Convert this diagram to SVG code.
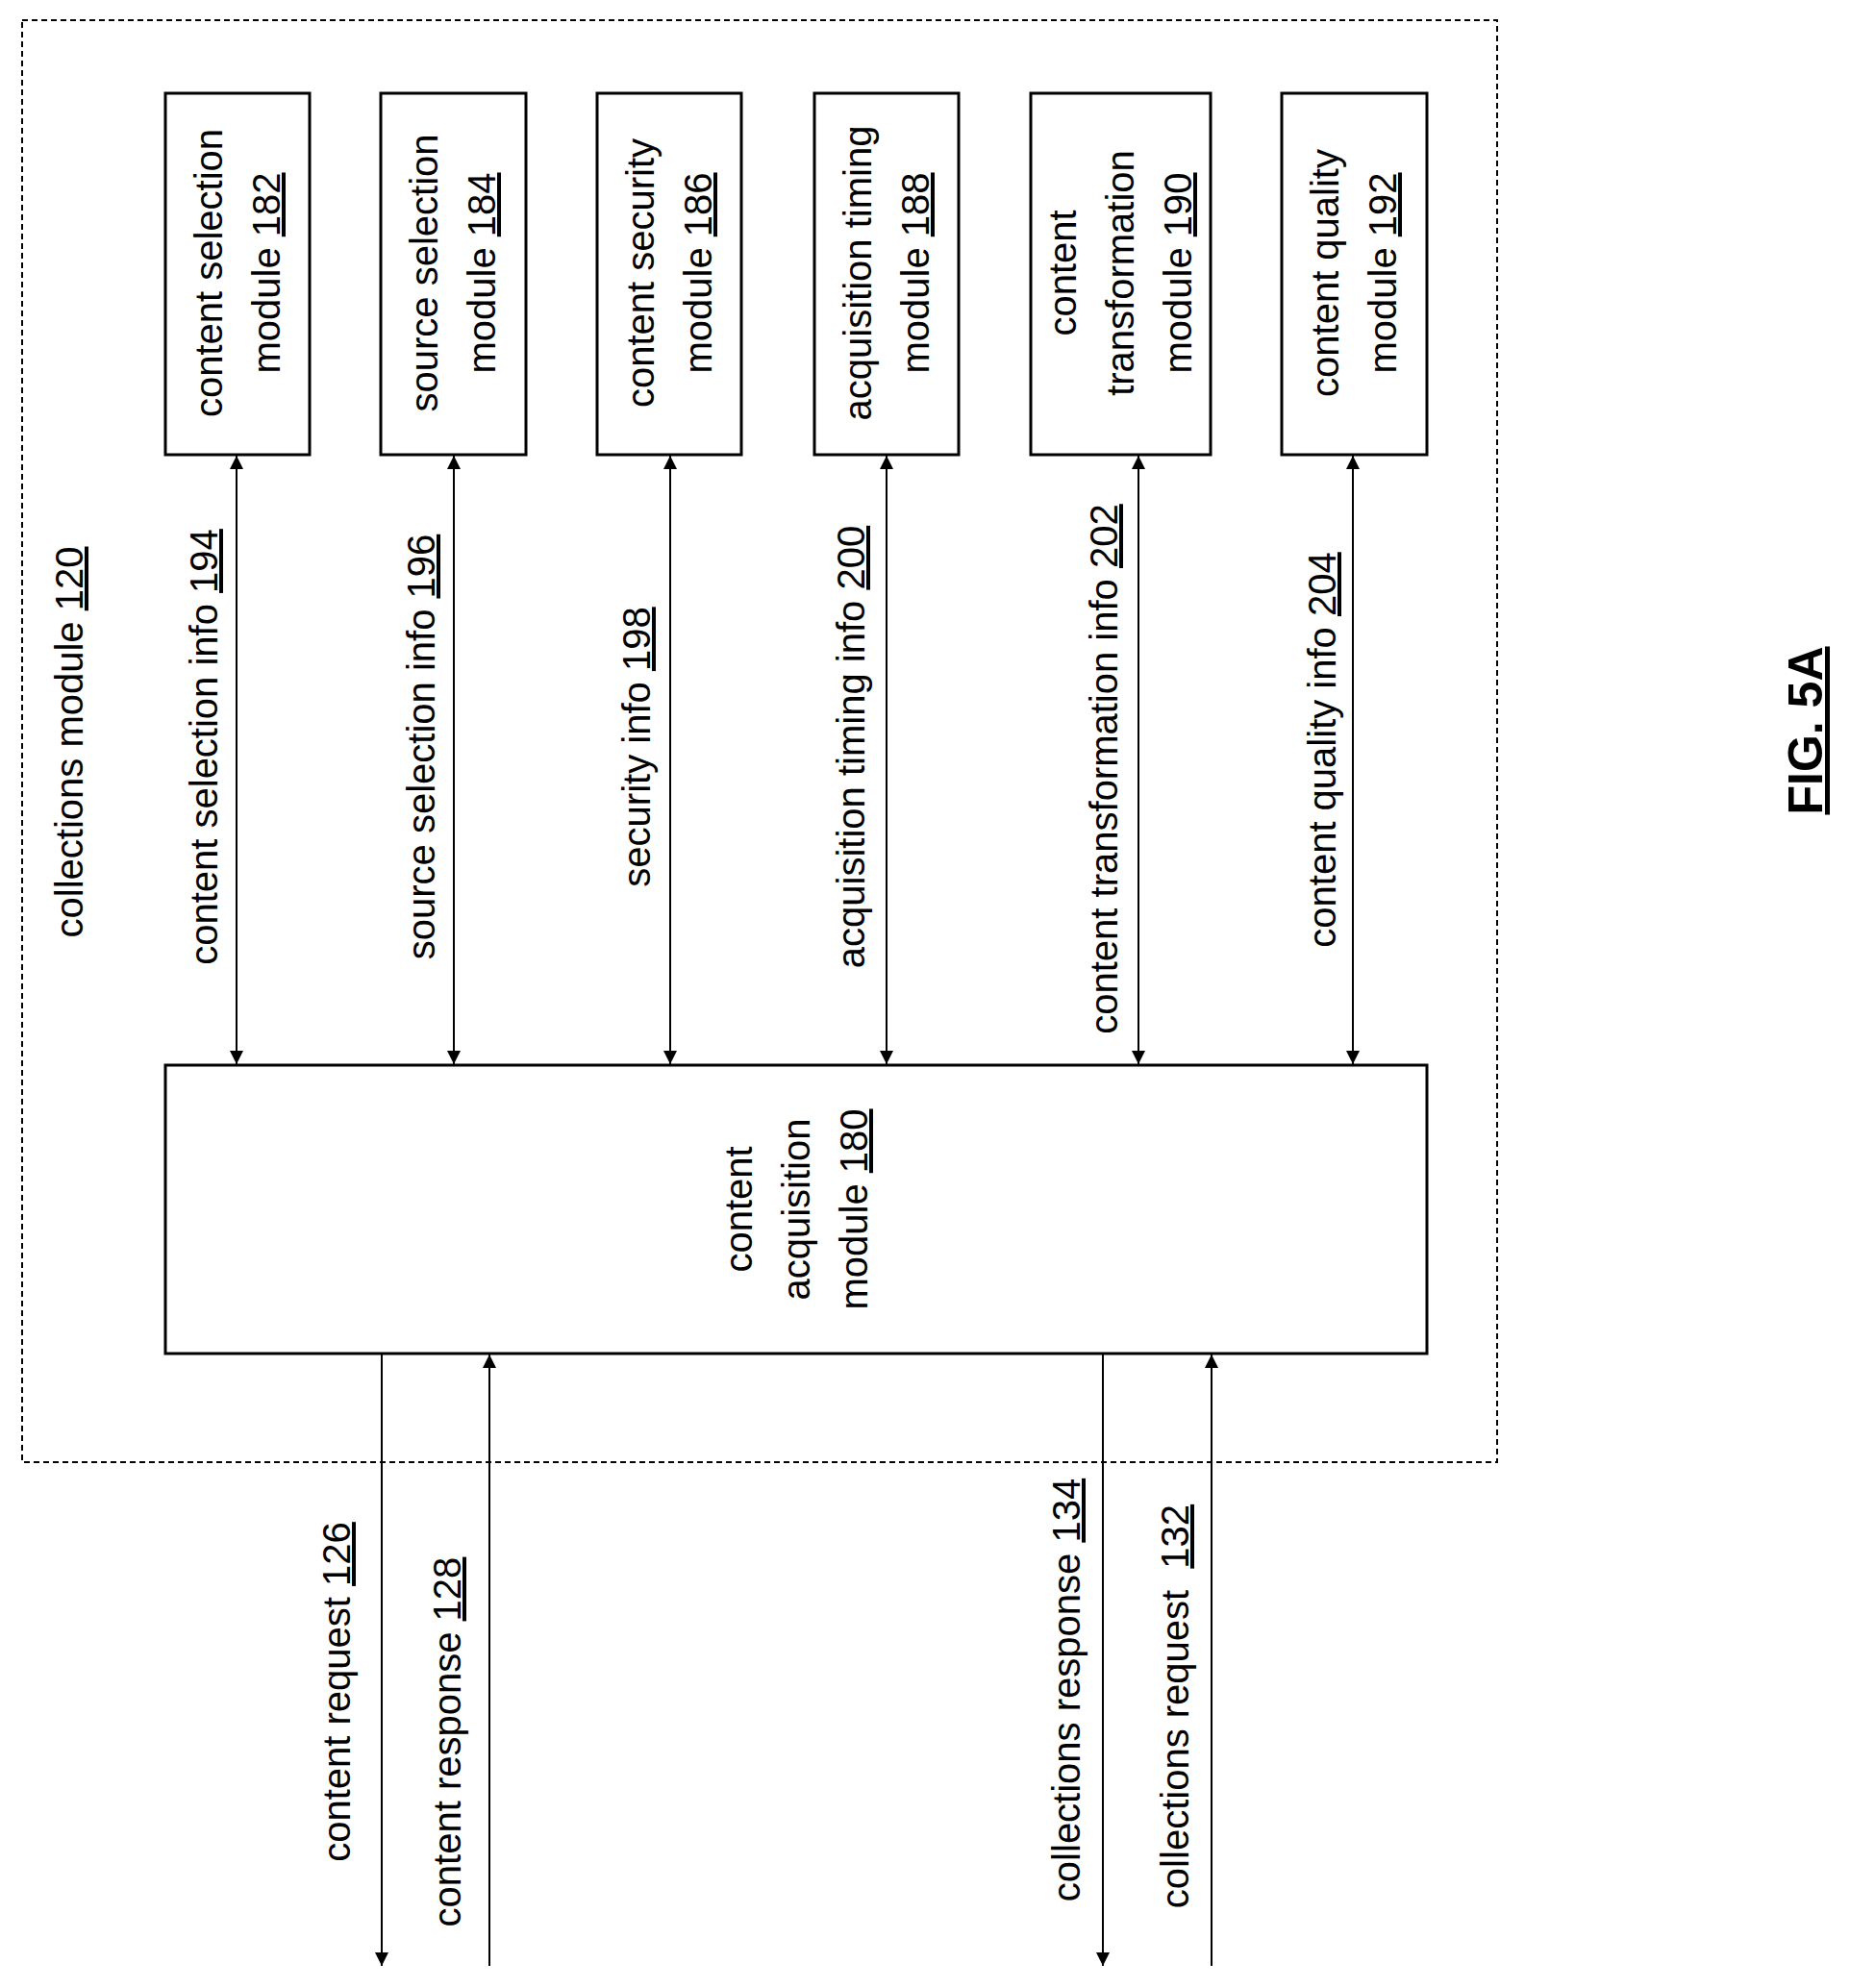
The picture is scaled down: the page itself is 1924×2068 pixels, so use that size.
<svg xmlns="http://www.w3.org/2000/svg" width="1924" height="2068" viewBox="0 0 1924 2068">
<style>
text{font-family:"Liberation Sans",Arial,sans-serif;font-size:40px;fill:#000}
.box{fill:#fff;stroke:#000;stroke-width:3}
.c{stroke:#000;stroke-width:2;fill:none}
.u{text-decoration:underline}
</style>
<defs>
<marker id="ah" viewBox="0 0 10 10" refX="10" refY="5" markerWidth="22" markerHeight="14" markerUnits="userSpaceOnUse" orient="auto-start-reverse"><path d="M0,0 L10,5 L0,10 z" fill="#000"/></marker>
</defs>
<rect width="1924" height="2068" fill="#fff"/>
<g id="collections">
<rect x="23" y="21" width="1534" height="1500" fill="none" stroke="#000" stroke-width="2" stroke-dasharray="6 4"/>
<text transform="translate(86,772) rotate(-90)" text-anchor="middle">collections module <tspan class="u">120</tspan></text>
</g>
<g id="m182"><rect class="box" x="172" y="97" width="150" height="376"/>
<text transform="translate(247,284) rotate(-90)" text-anchor="middle"><tspan x="0" y="-16">content selection</tspan><tspan x="0" y="44">module <tspan class="u">182</tspan></tspan></text></g>
<g id="m184"><rect class="box" x="396" y="97" width="151" height="376"/>
<text transform="translate(471,284) rotate(-90)" text-anchor="middle"><tspan x="0" y="-16">source selection</tspan><tspan x="0" y="44">module <tspan class="u">184</tspan></tspan></text></g>
<g id="m186"><rect class="box" x="621" y="97" width="150" height="376"/>
<text transform="translate(696,284) rotate(-90)" text-anchor="middle"><tspan x="0" y="-16">content security</tspan><tspan x="0" y="44">module <tspan class="u">186</tspan></tspan></text></g>
<g id="m188"><rect class="box" x="847" y="97" width="150" height="376"/>
<text transform="translate(922,284) rotate(-90)" text-anchor="middle"><tspan x="0" y="-16">acquisition timing</tspan><tspan x="0" y="44">module <tspan class="u">188</tspan></tspan></text></g>
<g id="m190"><rect class="box" x="1072" y="97" width="187" height="376"/>
<text transform="translate(1165,284) rotate(-90)" text-anchor="middle"><tspan x="0" y="-46">content</tspan><tspan x="0" y="14">transformation</tspan><tspan x="0" y="74">module <tspan class="u">190</tspan></tspan></text></g>
<g id="m192"><rect class="box" x="1333" y="97" width="151" height="376"/>
<text transform="translate(1408,284) rotate(-90)" text-anchor="middle"><tspan x="0" y="-16">content quality</tspan><tspan x="0" y="44">module <tspan class="u">192</tspan></tspan></text></g>
<g id="m180"><rect class="box" x="172" y="1108" width="1312" height="300"/>
<text transform="translate(828,1258) rotate(-90)" text-anchor="middle"><tspan x="0" y="-46">content</tspan><tspan x="0" y="14">acquisition</tspan><tspan x="0" y="74">module <tspan class="u">180</tspan></tspan></text></g>
<g id="connectors">
<line class="c" x1="246" y1="474" x2="246" y2="1107" marker-start="url(#ah)" marker-end="url(#ah)"/>
<line class="c" x1="472" y1="474" x2="472" y2="1107" marker-start="url(#ah)" marker-end="url(#ah)"/>
<line class="c" x1="697" y1="474" x2="697" y2="1107" marker-start="url(#ah)" marker-end="url(#ah)"/>
<line class="c" x1="922" y1="474" x2="922" y2="1107" marker-start="url(#ah)" marker-end="url(#ah)"/>
<line class="c" x1="1184" y1="474" x2="1184" y2="1107" marker-start="url(#ah)" marker-end="url(#ah)"/>
<line class="c" x1="1407" y1="474" x2="1407" y2="1107" marker-start="url(#ah)" marker-end="url(#ah)"/>
<line class="c" x1="397" y1="1409" x2="397" y2="2045" marker-end="url(#ah)"/>
<line class="c" x1="509" y1="2045" x2="509" y2="1409" marker-end="url(#ah)"/>
<line class="c" x1="1147" y1="1409" x2="1147" y2="2045" marker-end="url(#ah)"/>
<line class="c" x1="1260" y1="2045" x2="1260" y2="1409" marker-end="url(#ah)"/>
<text transform="translate(226,777) rotate(-90)" text-anchor="middle">content selection info <tspan class="u">194</tspan></text>
<text transform="translate(452,777) rotate(-90)" text-anchor="middle">source selection info <tspan class="u">196</tspan></text>
<text transform="translate(676,777) rotate(-90)" text-anchor="middle">security info <tspan class="u">198</tspan></text>
<text transform="translate(899,777) rotate(-90)" text-anchor="middle">acquisition timing info <tspan class="u">200</tspan></text>
<text transform="translate(1162,800) rotate(-90)" text-anchor="middle">content transformation info <tspan class="u">202</tspan></text>
<text transform="translate(1389,780) rotate(-90)" text-anchor="middle">content quality info <tspan class="u">204</tspan></text>
<text transform="translate(364,1760) rotate(-90)" text-anchor="middle">content request <tspan class="u">126</tspan></text>
<text transform="translate(479,1812) rotate(-90)" text-anchor="middle">content response <tspan class="u">128</tspan></text>
<text transform="translate(1123,1758) rotate(-90)" text-anchor="middle">collections response <tspan class="u">134</tspan></text>
<text transform="translate(1236,1775) rotate(-90)" text-anchor="middle">collections request&#160; <tspan class="u">132</tspan></text>
</g>
<text transform="translate(1895,760) rotate(-90)" text-anchor="middle" style="font-weight:bold;font-size:50px" class="u">FIG. 5A</text>
</svg>
